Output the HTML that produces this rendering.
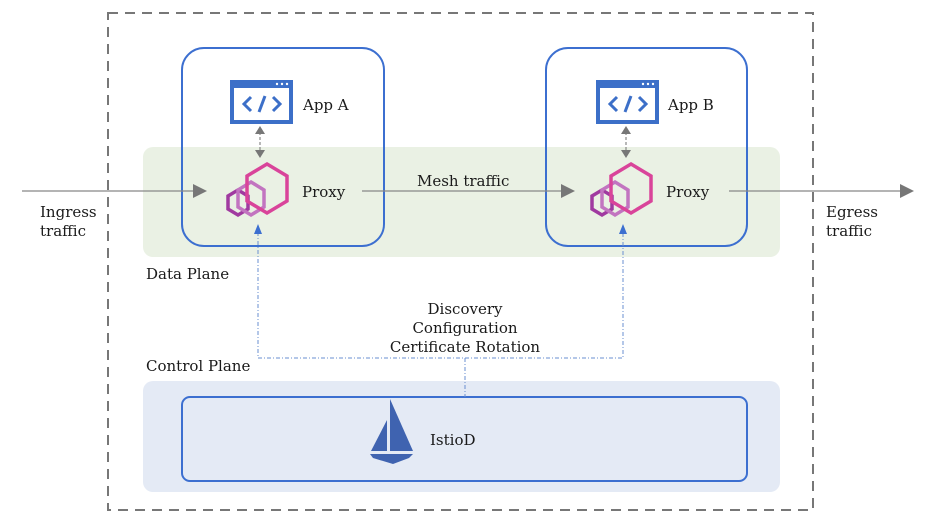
<!DOCTYPE html>
<html><head><meta charset="utf-8"><style>
html,body{margin:0;padding:0;background:#fff;width:929px;height:524px;overflow:hidden}
svg{display:block}
text{font-family:"DejaVu Serif","Liberation Serif",serif;font-size:15px;fill:#1a1a1a}
</style></head><body>
<svg width="929" height="524" viewBox="0 0 929 524" xmlns="http://www.w3.org/2000/svg">
<rect x="108" y="13" width="705" height="497" fill="none" stroke="#777" stroke-width="2" stroke-dasharray="10,7"/>
<rect x="143" y="147" width="637" height="110" rx="10" fill="#eaf1e4"/>
<rect x="143" y="381" width="637" height="111" rx="10" fill="#e4eaf5"/>
<rect x="182" y="48" width="202" height="198" rx="22" fill="none" stroke="#3c6fd0" stroke-width="2"/>
<rect x="546" y="48" width="201" height="198" rx="22" fill="none" stroke="#3c6fd0" stroke-width="2"/>
<rect x="182" y="397" width="565" height="84" rx="8" fill="none" stroke="#3c6fd0" stroke-width="2"/>
<line x1="22" y1="191" x2="193" y2="191" stroke="#888" stroke-width="1.2"/>
<path d="M193,184 L207,191 L193,198 z" fill="#777"/>
<line x1="362" y1="191" x2="561" y2="191" stroke="#888" stroke-width="1.2"/>
<path d="M561,184 L575,191 L561,198 z" fill="#777"/>
<line x1="729" y1="191" x2="900" y2="191" stroke="#888" stroke-width="1.2"/>
<path d="M900,184 L914,191 L900,198 z" fill="#777"/>
<g id="app">
<rect x="230" y="80" width="63" height="44" fill="#3c6fc8"/>
<rect x="234" y="88" width="55" height="32" fill="#fff"/>
<circle cx="277" cy="84" r="1.2" fill="#fff"/><circle cx="282" cy="84" r="1.2" fill="#fff"/><circle cx="287" cy="84" r="1.2" fill="#fff"/>
<path d="M251,97 L244,104 L251,111 M273,97 L280,104 L273,111 M265,96 L259,112" fill="none" stroke="#3c6fc8" stroke-width="3"/>
</g>
<use href="#app" transform="translate(366,0)"/>
<g id="dbl" stroke="#888" fill="#777">
<line x1="260" y1="132" x2="260" y2="152" stroke-dasharray="3,2" stroke-width="1.2"/>
<path d="M255,134 L260,126 L265,134 z" stroke="none"/>
<path d="M255,150 L260,158 L265,150 z" stroke="none"/>
</g>
<use href="#dbl" transform="translate(366,0)"/>
<g id="px" fill="none" stroke-width="3.5">
<path d="M238,190 l10,6 v13 l-10,6 l-10,-6 v-13 z" stroke="#a03aa0"/>
<path d="M251,182 l13,8 v17 l-13,8 l-13,-8 v-17 z" stroke="#c274c0"/>
<path d="M267,164 l20,12 v25 l-20,12 l-20,-12 v-25 z" stroke="#d9449a"/>
</g>
<use href="#px" transform="translate(364,0)"/>
<g stroke="#6a8fd0" stroke-width="1" fill="none" stroke-dasharray="4,2,1,2">
<path d="M258,232 V358 H623 V232"/>
<line x1="465" y1="358" x2="465" y2="397"/>
</g>
<path d="M254,234 L258,224 L262,234 z" fill="#3c6fd0"/>
<path d="M619,234 L623,224 L627,234 z" fill="#3c6fd0"/>
<path d="M370,454 L413,454 L409,458 L393,464 L373,458 z" fill="#3f63b0"/>
<path d="M371,451 L387,420 L387,451 z" fill="#3f63b0"/>
<path d="M390,451 L390,399 L413,451 z" fill="#3f63b0"/>
<text x="303" y="110" font-size="17">App A</text>
<text x="668" y="110" font-size="17">App B</text>
<text x="302" y="197" font-size="17">Proxy</text>
<text x="666" y="197" font-size="17">Proxy</text>
<text x="417" y="186">Mesh traffic</text>
<text x="40" y="217">Ingress</text>
<text x="40" y="236">traffic</text>
<text x="826" y="217">Egress</text>
<text x="826" y="236">traffic</text>
<text x="146" y="279">Data Plane</text>
<text x="146" y="371">Control Plane</text>
<text x="465" y="314" text-anchor="middle">Discovery</text>
<text x="465" y="333" text-anchor="middle">Configuration</text>
<text x="465" y="352" text-anchor="middle">Certificate Rotation</text>
<text x="430" y="445" font-size="17">IstioD</text>
</svg>
</body></html>
